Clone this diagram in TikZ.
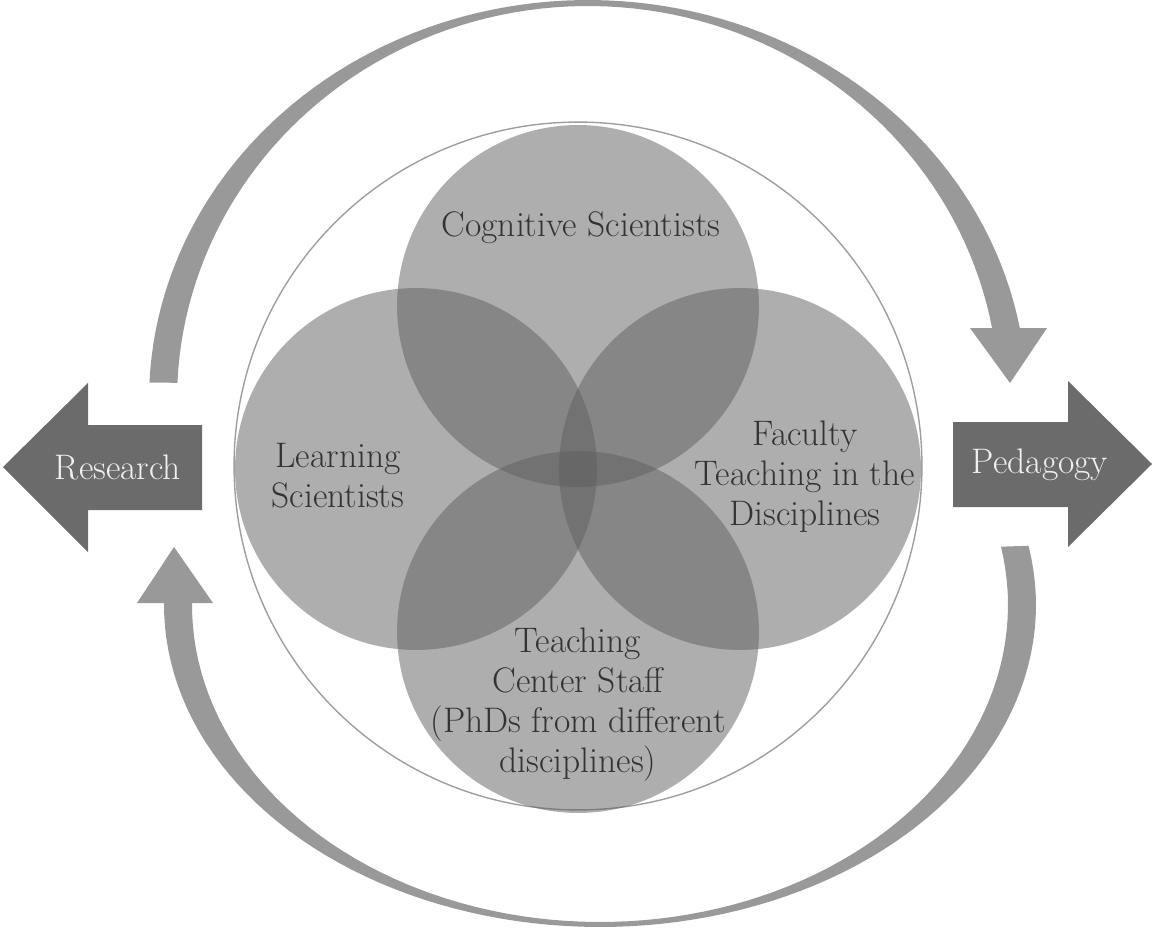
\documentclass[tikz,border=0pt]{standalone}
\usepackage{tikz}
\usetikzlibrary{positioning}
\definecolor{venngray}{gray}{0.37}
\definecolor{arcgray}{gray}{0.6}
\definecolor{bigarrowgray}{gray}{0.42}
\definecolor{labelgray}{gray}{0.2}
\tikzset{venn/.style={circle,fill=venngray,fill opacity=0.5,minimum size=7.24cm,inner sep=0pt}}
\tikzset{ring/.style={circle,draw=black!38,line width=0.8pt,minimum size=13.76cm,inner sep=0pt}}
\tikzset{vennlabel/.style={align=center,text=labelgray,inner sep=0pt,font=\fontsize{20.2}{22.8}\selectfont}}
\tikzset{arrowlabel/.style={text=black!6,inner sep=0pt,font=\fontsize{20.2}{22.8}\selectfont}}

\begin{document}
\begin{tikzpicture}[x=0.02cm, y=-0.02cm]
\useasboundingbox (0,0) rectangle (1153,929);

% outer ring
\node [ring] (ring) at (578,466) {};

% the four groups
\foreach \n/\cx/\cy in {cog/578/306, learn/416/469, faculty/740/469, staff/578/632}
\node [venn] (\n) at (\cx,\cy) {};

\node [vennlabel] (cog-text) at (581,228) {Cognitive Scientists};
\node [vennlabel] (learn-text) at (338,476) {Learning\\Scientists};
\node [vennlabel] (faculty-text) at (805,477) {Faculty\\Teaching in the\\Disciplines};
\node [vennlabel] (staff-text) at (578,705) {Teaching\\Center Staff\\(PhDs from different\\disciplines)};

% cycle arrows
\fill [arcgray] plot [variable=\t, domain=177.5:10.4, samples=90] ({588+439*cos(\t)},{400-400*sin(\t)})
 -- plot [variable=\t, domain=10.4:177.5, samples=90] ({588+411*cos(\t)},{400-394*sin(\t)}) -- cycle;
\fill [arcgray] (970,328) -- (1047,328) -- (1010,383) -- cycle;

\fill [arcgray] plot [variable=\t, domain=10.6:-180.5, samples=90] ({600+436*cos(\t)},{605-322*sin(\t)})
 -- plot [variable=\t, domain=-180.5:10.6, samples=90] ({600+408*cos(\t)},{605-317*sin(\t)}) -- cycle;
\fill [arcgray] (137,603) -- (213,603) -- (174,547) -- cycle;

% research / pedagogy
\fill [bigarrowgray] (202,425) -- (88,425) -- (88,383) -- (3,467) -- (88,552) -- (88,510) -- (202,510) -- cycle;
\node [arrowlabel] (research) at (118,467) {Research};

\fill [bigarrowgray] (953,422) -- (1068,422) -- (1068,381) -- (1152,464) -- (1068,547) -- (1068,507) -- (953,507) -- cycle;
\node [arrowlabel] (pedagogy) at (1040,465) {Pedagogy};
\end{tikzpicture}
\end{document}
